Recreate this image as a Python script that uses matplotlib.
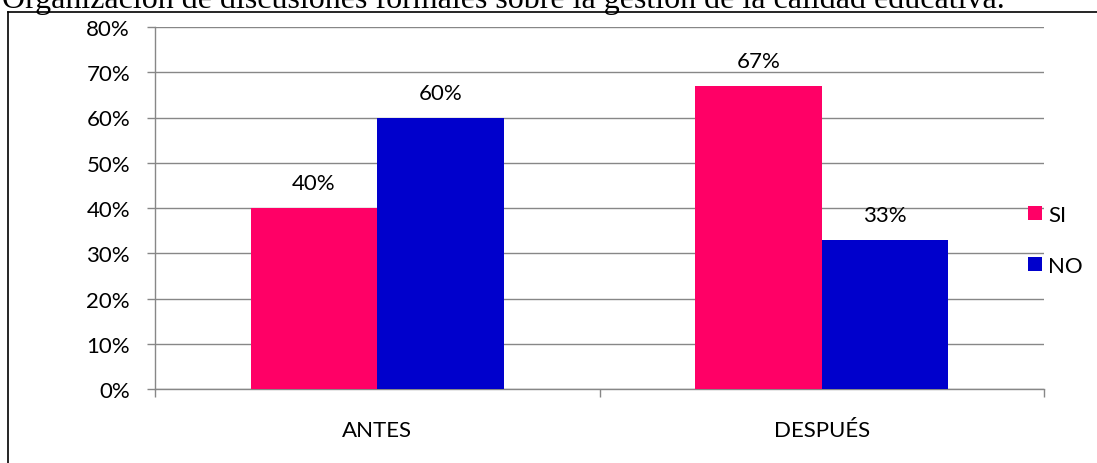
import matplotlib
matplotlib.use("Agg")
import matplotlib.pyplot as plt
from matplotlib.lines import Line2D
import numpy as np

title = "Organización de discusiones formales sobre la gestión de la calidad educativa."
categories = ["ANTES", "DESPUÉS"]
series_names = ["SI", "NO"]
si_values = [40, 67]
no_values = [60, 33]
colors = ["#FF0066", "#0000CC"]
yticks = [0, 10, 20, 30, 40, 50, 60, 70, 80]

W, H = 1097, 464
fig = plt.figure(figsize=(W / 100, H / 100), dpi=100)
font = "Lato"
fs = 16

ax = fig.add_axes([155 / W, 1 - 390 / H, (1044 - 155) / W, (390 - 28) / H])
x = np.arange(len(categories))
bw = 0.285
b1 = ax.bar(x - bw / 2, si_values, bw, color=colors[0], label=series_names[0], zorder=3)
b2 = ax.bar(x + bw / 2, no_values, bw, color=colors[1], label=series_names[1], zorder=3)
for bars in (b1, b2):
    ax.bar_label(bars, labels=[f"{v}%" for v in bars.datavalues], padding=10.5,
                 fontsize=fs, family=font, color="black")

ax.set_xlim(-0.5, len(categories) - 0.5)
ax.set_ylim(0, 80)
ax.set_yticks(yticks)
ax.set_yticklabels([f"{v}%" for v in yticks], family=font, fontsize=fs)
ax.set_xticks(x)
ax.set_xticklabels(categories, family=font, fontsize=fs)
ax.set_xticks(np.arange(len(categories) + 1) - 0.5, minor=True)
ax.tick_params(axis="x", which="major", length=0, pad=22)
ax.tick_params(axis="x", which="minor", length=6, color="#878787", width=1)
ax.tick_params(axis="y", length=6, color="#878787", width=1, pad=12)
ax.yaxis.grid(True, color="#878787", linewidth=1.0, zorder=0)
for s in ("top", "right"):
    ax.spines[s].set_visible(False)
for s in ("left", "bottom"):
    ax.spines[s].set_color("#878787")
    ax.spines[s].set_linewidth(1.0)
ax.set_axisbelow(True)

ax.legend(loc="upper left", bbox_to_anchor=(1028 / W, 1 - 206 / H),
          bbox_transform=fig.transFigure, frameon=False, prop={"family": font, "size": fs},
          handlelength=0.62, handleheight=0.62, handletextpad=0.3, labelspacing=1.4,
          borderpad=0, borderaxespad=0)

fig.text(2 / W, 1 - 8 / H, title, family="Liberation Serif", fontsize=23,
         ha="left", va="baseline")
fig.add_artist(Line2D([8 / W, 1], [1 - 12.5 / H, 1 - 12.5 / H], transform=fig.transFigure,
                      color="black", linewidth=1.2))
fig.add_artist(Line2D([8 / W, 8 / W], [0, 1 - 12.5 / H], transform=fig.transFigure,
                      color="black", linewidth=1.2))

fig.savefig("out.png", dpi=100)
